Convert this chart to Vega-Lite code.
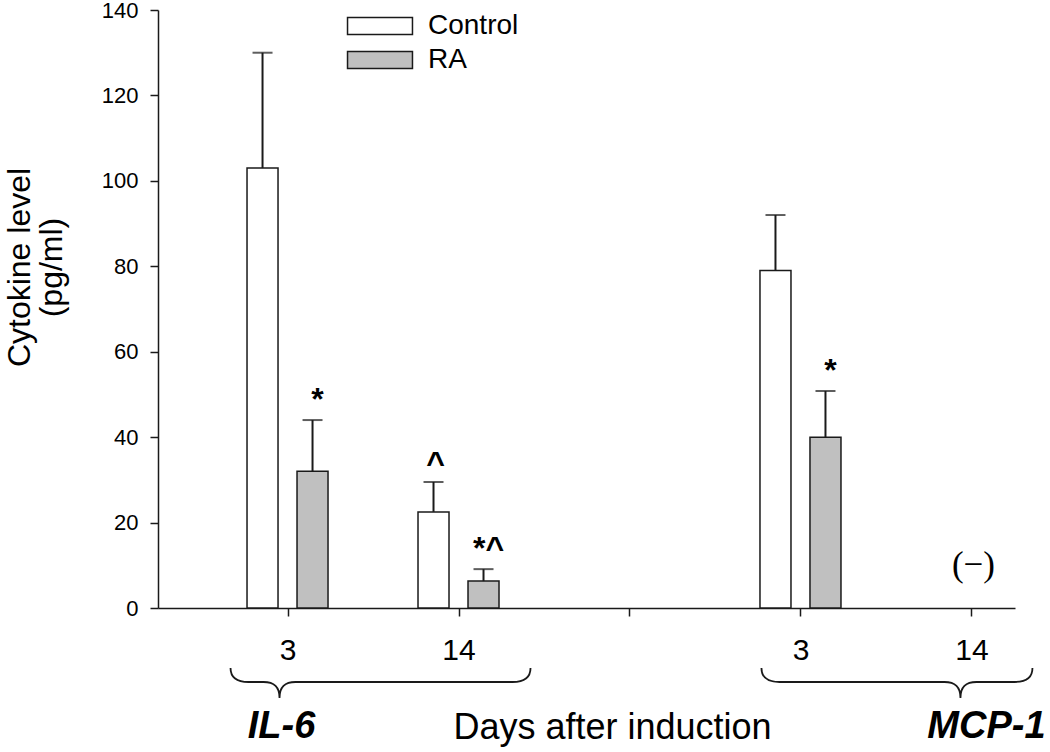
{
  "$schema": "https://vega.github.io/schema/vega-lite/v6.json",
  "width": 857,
  "height": 598,
  "autosize": {"type": "none"},
  "padding": {"left": 158, "top": 10, "right": 35, "bottom": 144},
  "config": {
    "font": "Liberation Sans",
    "view": {"stroke": null},
    "axis": {"grid": false, "domainColor": "#1a1a1a", "tickColor": "#1a1a1a", "labelColor": "#000000", "titleColor": "#000000", "domainWidth": 1.5, "tickWidth": 1.5}
  },
  "datasets": {
    "bars": [
      {"cytokine": "IL-6", "day": 3, "slot": 1, "group": "Control", "value": 103, "upper": 130, "sig": ""},
      {"cytokine": "IL-6", "day": 3, "slot": 1, "group": "RA", "value": 32, "upper": 44, "sig": "*"},
      {"cytokine": "IL-6", "day": 14, "slot": 2, "group": "Control", "value": 22.5, "upper": 29.5, "sig": "^"},
      {"cytokine": "IL-6", "day": 14, "slot": 2, "group": "RA", "value": 6.3, "upper": 9.1, "sig": "*^"},
      {"cytokine": "MCP-1", "day": 3, "slot": 4, "group": "Control", "value": 79, "upper": 92, "sig": ""},
      {"cytokine": "MCP-1", "day": 3, "slot": 4, "group": "RA", "value": 40, "upper": 50.8, "sig": "*"}
    ],
    "notes": [
      {"cytokine": "MCP-1", "day": 14, "slot": 5, "note": "(−)"}
    ],
    "groups": [
      {"cytokine": "IL-6", "slot": 1},
      {"cytokine": "MCP-1", "slot": 5}
    ]
  },
  "encoding": {
    "x": {
      "field": "slot", "type": "quantitative",
      "scale": {"domain": [0.2717, 5.2254], "nice": false, "zero": false},
      "axis": {
        "values": [1, 2, 3, 4, 5], "tickSize": 8,
        "labelExpr": "datum.value == 1 || datum.value == 4 ? '3' : datum.value == 3 ? '' : '14'",
        "labelFontSize": 30, "labelBaseline": "middle", "labelPadding": 34, "labelFlush": false,
        "title": "Days after induction", "titleFontSize": 36, "titleFontWeight": "normal",
        "titleX": 454, "titleY": 119, "titleBaseline": "middle", "titleAlign": "center"
      }
    }
  },
  "layer": [
    {
      "data": {"name": "bars"},
      "transform": [{"filter": "datum.group == 'Control'"}],
      "layer": [
        {
          "mark": {"type": "bar", "width": 31, "stroke": "#1a1a1a", "strokeWidth": 1.5, "xOffset": -25},
          "encoding": {
            "y": {
              "field": "value", "type": "quantitative",
              "scale": {"domain": [0, 140], "nice": false},
              "axis": {
                "values": [0, 20, 40, 60, 80, 100, 120, 140], "tickSize": 8,
                "labelFontSize": 22, "labelPadding": 12,
                "title": ["Cytokine level", "(pg/ml)"], "titleFontSize": 32, "titleFontWeight": "normal",
                "titleX": -139, "titleY": 257, "titleAngle": -90, "titleBaseline": "middle", "titleAlign": "center", "titleLineHeight": 32
              }
            },
            "fill": {
              "field": "group", "type": "nominal",
              "scale": {"domain": ["Control", "RA"], "range": ["#ffffff", "#c0c0c0"]},
              "legend": {
                "title": null, "orient": "none", "legendX": 208, "legendY": 2, "padding": 0,
                "symbolType": "M -3.82 -1 H 3.82 V 1 H -3.82 Z", "symbolSize": 289,
                "symbolStrokeColor": "#1a1a1a", "symbolStrokeWidth": 1.5,
                "labelFontSize": 28, "labelOffset": 34, "rowPadding": 6, "labelColor": "#000000"
              }
            }
          }
        },
        {
          "mark": {"type": "rule", "strokeWidth": 2, "color": "#1a1a1a", "xOffset": -25},
          "encoding": {"y": {"field": "value", "type": "quantitative"}, "y2": {"field": "upper"}}
        },
        {
          "mark": {"type": "tick", "orient": "horizontal", "size": 20, "thickness": 2, "color": "#1a1a1a", "xOffset": -25},
          "encoding": {"y": {"field": "upper", "type": "quantitative"}}
        },
        {
          "mark": {"type": "text", "fontSize": 32, "fontWeight": "bold", "baseline": "alphabetic", "dy": -8, "dx": -23, "color": "#000000"},
          "encoding": {"y": {"field": "upper", "type": "quantitative"}, "text": {"field": "sig"}}
        }
      ]
    },
    {
      "data": {"name": "bars"},
      "transform": [{"filter": "datum.group == 'RA'"}],
      "layer": [
        {
          "mark": {"type": "bar", "width": 31, "stroke": "#1a1a1a", "strokeWidth": 1.5, "xOffset": 25},
          "encoding": {
            "y": {"field": "value", "type": "quantitative"},
            "fill": {"field": "group", "type": "nominal"}
          }
        },
        {
          "mark": {"type": "rule", "strokeWidth": 2, "color": "#1a1a1a", "xOffset": 25},
          "encoding": {"y": {"field": "value", "type": "quantitative"}, "y2": {"field": "upper"}}
        },
        {
          "mark": {"type": "tick", "orient": "horizontal", "size": 20, "thickness": 2, "color": "#1a1a1a", "xOffset": 25},
          "encoding": {"y": {"field": "upper", "type": "quantitative"}}
        },
        {
          "mark": {"type": "text", "fontSize": 32, "fontWeight": "bold", "baseline": "alphabetic", "dy": -10, "dx": 30, "color": "#000000"},
          "encoding": {"y": {"field": "upper", "type": "quantitative"}, "text": {"field": "sig"}}
        }
      ]
    },
    {
      "data": {"name": "notes"},
      "mark": {"type": "text", "font": "Liberation Serif", "fontSize": 35, "baseline": "middle", "dy": -43, "dx": 2, "color": "#000000"},
      "encoding": {"y": {"datum": 0, "type": "quantitative"}, "text": {"field": "note"}}
    },
    {
      "data": {"name": "groups"},
      "mark": {"type": "point", "filled": false, "size": 10000, "stroke": "#1a1a1a", "strokeWidth": 1.8, "opacity": 1},
      "encoding": {
        "y": {"datum": 0, "type": "quantitative"},
        "shape": {
          "field": "cytokine", "type": "nominal",
          "scale": {"domain": ["IL-6", "MCP-1"], "range": [
            "M -1.14 1.2 C -1.14 1.4 -1.02 1.48 -0.78 1.48 H -0.48 C -0.28 1.48 -0.16 1.56 -0.16 1.8 C -0.16 1.56 -0.04 1.48 0.16 1.48 H 4.5 C 4.74 1.48 4.86 1.4 4.86 1.2",
            "M -4.2 1.2 C -4.2 1.4 -4.08 1.48 -3.84 1.48 H -0.54 C -0.34 1.48 -0.22 1.56 -0.22 1.8 C -0.22 1.56 -0.1 1.48 0.1 1.48 H 0.86 C 1.1 1.48 1.22 1.4 1.22 1.2"
          ]},
          "legend": null
        }
      }
    },
    {
      "data": {"name": "groups"},
      "transform": [{"filter": "datum.cytokine == 'IL-6'"}],
      "mark": {"type": "text", "fontSize": 38, "fontWeight": "bold", "fontStyle": "italic", "baseline": "middle", "dx": -6, "dy": 119, "color": "#000000"},
      "encoding": {"y": {"datum": 0, "type": "quantitative"}, "text": {"field": "cytokine"}}
    },
    {
      "data": {"name": "groups"},
      "transform": [{"filter": "datum.cytokine == 'MCP-1'"}],
      "mark": {"type": "text", "fontSize": 38, "fontWeight": "bold", "fontStyle": "italic", "baseline": "middle", "dx": 15, "dy": 119, "color": "#000000"},
      "encoding": {"y": {"datum": 0, "type": "quantitative"}, "text": {"field": "cytokine"}}
    }
  ]
}
